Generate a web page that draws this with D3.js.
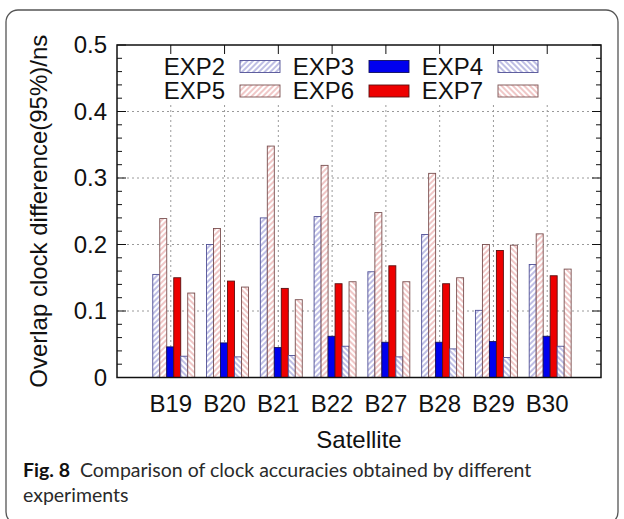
<!DOCTYPE html>
<html>
<head>
<meta charset="utf-8">
<script src="https://cdnjs.cloudflare.com/ajax/libs/d3/7.8.5/d3.min.js"></script>
<style>
  body { margin: 0; background: #fff; }
  svg { display: block; }
</style>
</head>
<body>
<svg id="canvas" width="624" height="519"></svg>
<script>
var satellites = ['B19', 'B20', 'B21', 'B22', 'B27', 'B28', 'B29', 'B30']
// series in the order the bars stand inside each group
var seriesNames = ['EXP2', 'EXP5', 'EXP3', 'EXP6', 'EXP4', 'EXP7']
var exp2 = [0.155, 0.200, 0.240, 0.242, 0.159, 0.215, 0.101, 0.170]
var exp5 = [0.239, 0.224, 0.348, 0.319, 0.248, 0.307, 0.200, 0.216]
var exp3 = [0.046, 0.052, 0.045, 0.062, 0.053, 0.053, 0.054, 0.062]
var exp6 = [0.150, 0.145, 0.134, 0.141, 0.168, 0.141, 0.191, 0.153]
var exp4 = [0.032, 0.031, 0.033, 0.047, 0.031, 0.043, 0.030, 0.047]
var exp7 = [0.127, 0.136, 0.117, 0.144, 0.144, 0.150, 0.199, 0.163]
var seriesValues = [exp2, exp5, exp3, exp6, exp4, exp7]
// legend is laid out row by row
var legendRows = [['EXP2', 'EXP3', 'EXP4'], ['EXP5', 'EXP6', 'EXP7']]
var yTicks = [0, 0.1, 0.2, 0.3, 0.4, 0.5]

;(function (d3) {
  'use strict'
  var styles = {
    EXP2: { fill: 'url(#hatchBlueF)', stroke: '#505096' },
    EXP5: { fill: 'url(#hatchPinkF)', stroke: '#7a5050' },
    EXP3: { fill: '#0000ee', stroke: '#10105a' },
    EXP6: { fill: '#ee0000', stroke: '#5a1010' },
    EXP4: { fill: 'url(#hatchBlueB)', stroke: '#505096' },
    EXP7: { fill: 'url(#hatchPinkB)', stroke: '#7a5050' }
  }

  var svg = d3.select('#canvas')
  var font = 'Liberation Sans, Arial, Helvetica, sans-serif'
  var left = 117
  var right = 601
  var plotTop = 45
  var plotBottom = 377.5

  var x = d3.scaleLinear().domain([-1, 8]).range([left, right])
  var y = d3.scaleLinear().domain([0, 0.5]).range([plotBottom, plotTop])
  var barW = 0.13
  var groupShift = -0.335

  function makeHatch (id, color, angle) {
    var p = svg.select('defs').append('pattern')
      .attr('id', id)
      .attr('patternUnits', 'userSpaceOnUse')
      .attr('width', 4)
      .attr('height', 4)
      .attr('patternTransform', 'rotate(' + angle + ')')
    p.append('rect').attr('width', 4).attr('height', 4).attr('fill', '#fff')
    p.append('line')
      .attr('x1', 2).attr('y1', 0).attr('x2', 2).attr('y2', 4)
      .attr('stroke', color).attr('stroke-width', 1)
  }

  svg.append('defs')
  makeHatch('hatchBlueF', '#7f7fcc', 45)
  makeHatch('hatchBlueB', '#7f7fcc', -45)
  makeHatch('hatchPinkF', '#e29090', 45)
  makeHatch('hatchPinkB', '#e29090', -45)

  // outer rounded box
  svg.append('rect')
    .attr('x', 6).attr('y', 10)
    .attr('width', 612).attr('height', 514)
    .attr('rx', 12)
    .attr('fill', 'none')
    .attr('stroke', '#555')
    .attr('stroke-width', 1.3)

  // grid
  var grid = svg.append('g')
    .attr('stroke', '#9a9a9a')
    .attr('stroke-width', 1)
    .attr('stroke-dasharray', '2,3')
  grid.selectAll('line.h').data(yTicks.slice(1, 5)).enter().append('line')
    .attr('x1', left).attr('x2', right)
    .attr('y1', function (d) { return y(d) }).attr('y2', function (d) { return y(d) })
  grid.selectAll('line.v').data(satellites).enter().append('line')
    .attr('y1', plotTop).attr('y2', plotBottom)
    .attr('x1', function (d, i) { return x(i) }).attr('x2', function (d, i) { return x(i) })

  // bars
  seriesNames.forEach(function (name, s) {
    svg.append('g').selectAll('rect').data(seriesValues[s]).enter().append('rect')
      .attr('x', function (d, i) { return x(i + groupShift + s * barW) })
      .attr('width', x(barW) - x(0))
      .attr('y', function (d) { return y(d) })
      .attr('height', function (d) { return y(0) - y(d) })
      .attr('fill', styles[name].fill)
      .attr('stroke', styles[name].stroke)
      .attr('stroke-width', 0.9)
  })

  // legend with opaque background
  svg.append('rect')
    .attr('x', left + 1).attr('y', plotTop + 1)
    .attr('width', right - left - 2).attr('height', 58)
    .attr('fill', '#fff')

  var legend = svg.append('g')
  legendRows.forEach(function (row, r) {
    var cy = 66.5 + r * 24.5
    row.forEach(function (name, c) {
      var sx = 240 + c * 129
      legend.append('text')
        .attr('x', sx - 15).attr('y', cy)
        .attr('dy', '0.35em')
        .attr('text-anchor', 'end')
        .attr('font-family', font)
        .attr('font-size', 24)
        .attr('fill', '#111')
        .text(name)
      legend.append('rect')
        .attr('x', sx).attr('y', cy - 6)
        .attr('width', 40).attr('height', 12)
        .attr('fill', styles[name].fill)
        .attr('stroke', styles[name].stroke)
        .attr('stroke-width', 0.9)
    })
  })

  // ticks (inward, mirrored)
  var minor = d3.range(0, 0.5001, 0.02)
  var ticks = svg.append('g').attr('stroke', '#111').attr('stroke-width', 1)
  ticks.selectAll('line.yl').data(minor).enter().append('line')
    .attr('x1', left)
    .attr('x2', function (d, i) { return left + (i % 5 === 0 ? 9 : 5) })
    .attr('y1', function (d) { return y(d) }).attr('y2', function (d) { return y(d) })
  ticks.selectAll('line.yr').data(minor).enter().append('line')
    .attr('x1', right)
    .attr('x2', function (d, i) { return right - (i % 5 === 0 ? 9 : 5) })
    .attr('y1', function (d) { return y(d) }).attr('y2', function (d) { return y(d) })
  ticks.selectAll('line.xt').data(satellites).enter().append('line')
    .attr('x1', function (d, i) { return x(i) }).attr('x2', function (d, i) { return x(i) })
    .attr('y1', plotTop).attr('y2', plotTop + 9)

  // frame
  svg.append('rect')
    .attr('x', left).attr('y', plotTop)
    .attr('width', right - left).attr('height', plotBottom - plotTop)
    .attr('fill', 'none')
    .attr('stroke', '#111')
    .attr('stroke-width', 1.5)

  // tick labels
  svg.append('g').selectAll('text').data(yTicks).enter().append('text')
    .attr('x', 107)
    .attr('y', function (d) { return y(d) })
    .attr('dy', '0.35em')
    .attr('text-anchor', 'end')
    .attr('font-family', font)
    .attr('font-size', 24)
    .attr('fill', '#111')
    .text(function (d) { return d === 0 ? '0' : d3.format('.1f')(d) })

  svg.append('g').selectAll('text').data(satellites).enter().append('text')
    .attr('x', function (d, i) { return x(i) })
    .attr('y', 412)
    .attr('text-anchor', 'middle')
    .attr('font-family', font)
    .attr('font-size', 24)
    .attr('fill', '#111')
    .text(function (d) { return d })

  // axis titles
  svg.append('text')
    .attr('x', (left + right) / 2).attr('y', 448)
    .attr('text-anchor', 'middle')
    .attr('font-family', font)
    .attr('font-size', 24)
    .attr('fill', '#111')
    .text('Satellite')

  svg.append('text')
    .attr('transform', 'translate(47,' + ((plotTop + plotBottom) / 2) + ') rotate(-90)')
    .attr('text-anchor', 'middle')
    .attr('font-family', font)
    .attr('font-size', 24)
    .attr('fill', '#111')
    .text('Overlap clock difference(95%)/ns')

  // caption
  var cap = svg.append('text')
    .attr('x', 23).attr('y', 477)
    .attr('font-family', 'Lato, Open Sans, sans-serif')
    .attr('font-size', 19.5)
    .attr('fill', '#2a2a2a')
  cap.append('tspan').attr('font-weight', 'bold').attr('fill', '#111').text('Fig. 8')
  cap.append('tspan').attr('dx', 10).text('Comparison of clock accuracies obtained by different')
  svg.append('text')
    .attr('x', 23).attr('y', 502)
    .attr('font-family', 'Lato, Open Sans, sans-serif')
    .attr('font-size', 19.5)
    .attr('fill', '#2a2a2a')
    .text('experiments')
})(d3)
</script>
</body>
</html>
